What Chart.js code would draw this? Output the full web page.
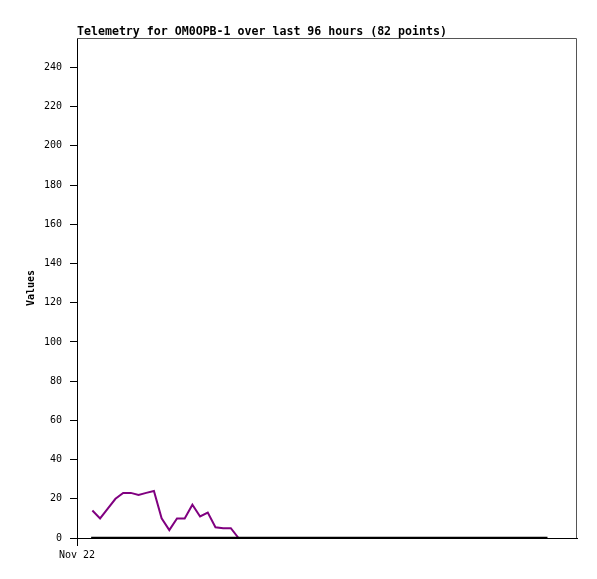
<!DOCTYPE html>
<html>
<head>
<meta charset="utf-8">
<script src="https://cdn.jsdelivr.net/npm/chart.js@4.4.0/dist/chart.umd.min.js"></script>
<style>
	html, body { margin: 0; padding: 0; background: #fff; }
	#wrap { width: 597px; height: 579px; }
</style>
</head>
<body>
<div id="wrap"><canvas id="chart"></canvas></div>
<script>
var chartTitle = 'Telemetry for OM0OPB-1 over last 96 hours (82 points)';
var axisTitle = 'Values';

// one slot per sample position; only the first one carries a date label
var labels = ['Nov 22'];
for (var i = 1; i <= 65; i++) labels.push('');

// purple series (starts at slot 2)
var telemetryValues = [null, null,
	14, 10, 15, 20, 23, 23, 22, 23, 24, 10,
	4, 10, 10, 17, 11, 13, 5.5, 5, 5, 0,
	0, 0, 0, 0, 0, 0, 0, 0, 0, 0,
	0, 0, 0, 0, 0, 0, 0, 0, 0, 0,
	0, 0, 0, 0, 0, 0, 0, 0, 0, 0,
	0, 0, 0, 0, 0, 0, 0, 0, 0, 0];

// black baseline series
var baselineValues = [null, null];
for (var j = 2; j <= 61; j++) baselineValues.push(0);

var yMax = 255;
var yStep = 20;

var mono = '"DejaVu Sans Mono", "Liberation Mono", monospace';

var frame = {
	id: 'frame',
	beforeDatasetsDraw: function(chart)
	{
		var a = chart.chartArea, ctx = chart.ctx;
		ctx.save();
		ctx.strokeStyle = '#555';
		ctx.lineWidth = 1;
		ctx.beginPath();
		ctx.moveTo(a.left, a.top + 0.5);
		ctx.lineTo(a.right - 0.5, a.top + 0.5);
		ctx.lineTo(a.right - 0.5, a.bottom);
		ctx.stroke();
		ctx.restore();
	},
	afterDraw: function(chart)
	{
		var a = chart.chartArea, ctx = chart.ctx;
		ctx.save();
		ctx.fillStyle = '#000';
		ctx.font = 'bold 11.6px ' + mono;
		ctx.textBaseline = 'alphabetic';
		ctx.textAlign = 'left';
		ctx.fillText(chartTitle, a.left, 35);
		ctx.restore();
	}
};

new Chart(
	document.getElementById('chart'),
	{
		type: 'line',
		data: {
			labels: labels,
			datasets: [
				{
					data: baselineValues,
					borderColor: '#000',
					borderWidth: 2.5,
					borderCapStyle: 'square',
					pointRadius: 0,
					tension: 0
				},
				{
					data: telemetryValues,
					borderColor: '#800080',
					borderWidth: 2,
					pointRadius: 0,
					tension: 0
				}
			]
		},
		options: {
			responsive: true,
			maintainAspectRatio: false,
			animation: false,
			layout: { padding: { top: 38, right: 20, left: 0, bottom: 0 } },
			plugins: {
				legend: { display: false },
				tooltip: { enabled: false },
				title: { display: false }
			},
			scales: {
				x: {
					type: 'category',
					offset: false,
					afterBuildTicks: function(scale) { scale.ticks = scale.ticks.slice(0, 1); },
					afterFit: function(scale) { scale.height = 41; },
					grid: { display: true, drawOnChartArea: false, drawTicks: true, tickLength: 8, color: '#000' },
					border: { display: true, color: '#000', width: 1 },
					ticks: {
						autoSkip: false,
						maxRotation: 0,
						padding: 3,
						color: '#000',
						font: { family: mono, size: 10 }
					}
				},
				y: {
					min: 0,
					max: yMax,
					afterFit: function(scale) { scale.width = 77; },
					afterBuildTicks: function(scale)
					{
						scale.ticks = scale.ticks.filter(function(t) { return t.value % yStep === 0; });
					},
					grid: { display: true, drawOnChartArea: false, drawTicks: true, tickLength: 7, color: '#000' },
					border: { display: true, color: '#000', width: 1 },
					ticks: {
						stepSize: yStep,
						padding: 8,
						color: '#000',
						font: { family: mono, size: 10 }
					},
					title: {
						display: true,
						text: axisTitle,
						color: '#000',
						padding: { top: 25, bottom: 0 },
						font: { family: mono, size: 10, weight: 'bold' }
					}
				}
			}
		},
		plugins: [frame]
	}
);
</script>
</body>
</html>
